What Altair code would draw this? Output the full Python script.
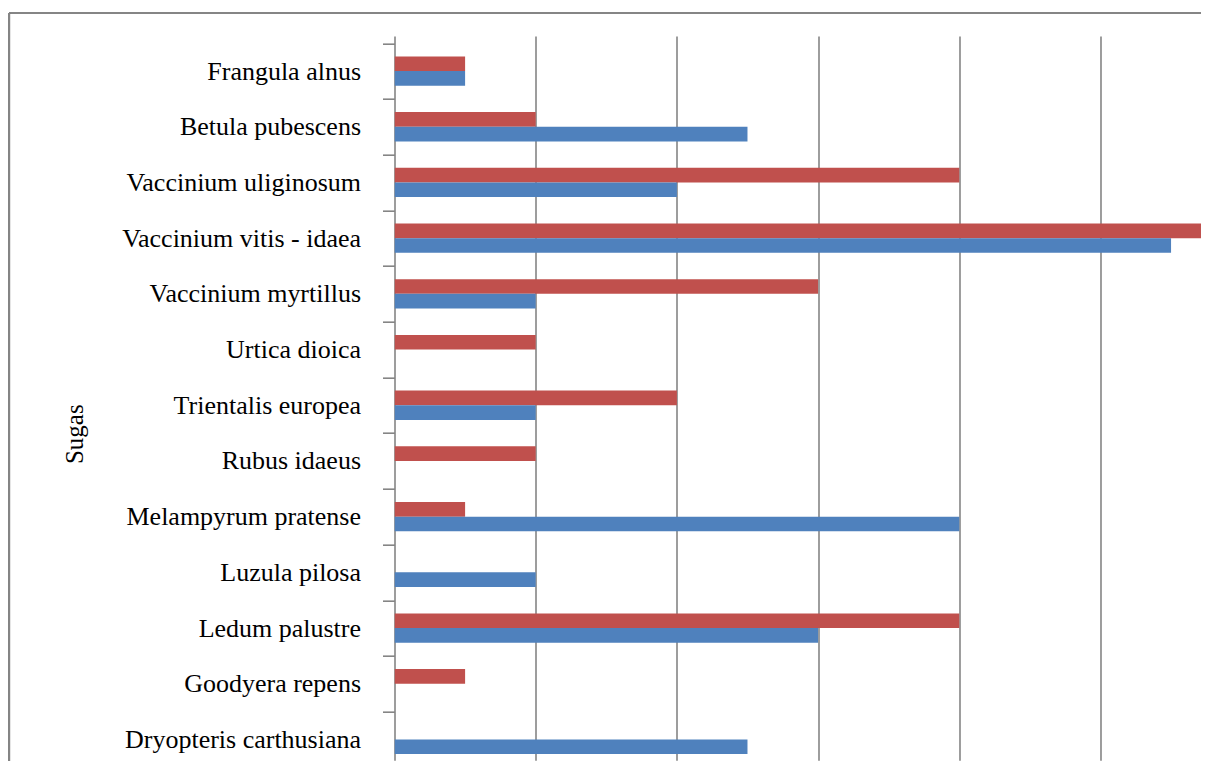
import altair as alt
import pandas as pd

species = [
    "Frangula alnus",
    "Betula pubescens",
    "Vaccinium uliginosum",
    "Vaccinium vitis - idaea",
    "Vaccinium myrtillus",
    "Urtica dioica",
    "Trientalis europea",
    "Rubus idaeus",
    "Melampyrum pratense",
    "Luzula pilosa",
    "Ledum palustre",
    "Goodyera repens",
    "Dryopteris carthusiana",
]
series_names = ["Series 1", "Series 2"]
series_colors = ["#C0504D", "#4F81BD"]
red_values = [0.5, 1, 4, 6, 3, 1, 2, 1, 0.5, 0, 4, 0.5, 0]
blue_values = [0.5, 2.5, 2, 5.5, 1, 0, 1, 0, 4, 1, 3, 0, 2.5]
grid_values = [0, 1, 2, 3, 4, 5]

rows = []
for sp, r, b in zip(species, red_values, blue_values):
    rows.append({"species": sp, "series": series_names[0], "value": r})
    rows.append({"species": sp, "series": series_names[1], "value": b})
df = pd.DataFrame(rows)

PLOT_W = 806.5
PLOT_H = 718
BAND_RANGE = [0.5, 724.6]
GRAY = "#858585"

bars = alt.Chart(df).mark_bar(clip=True).encode(
    x=alt.X(
        "value:Q",
        scale=alt.Scale(domain=[0, 5.712], nice=False, zero=True),
        axis=alt.Axis(
            values=grid_values, grid=True, gridColor=GRAY, gridWidth=1.6,
            labels=False, ticks=False, domain=False, title=None,
        ),
    ),
    y=alt.Y(
        "species:N",
        sort=species,
        scale=alt.Scale(range=BAND_RANGE, paddingInner=0, paddingOuter=0),
        axis=alt.Axis(
            title="Sugas",
            titleFont="Liberation Serif",
            titleFontSize=25,
            titleFontWeight="normal",
            titleColor="#000000",
            titleAngle=270,
            titleX=-320,
            titleY=391,
            titleAlign="center",
            titleBaseline="middle",
            labelFont="Liberation Serif",
            labelFontSize=26,
            labelColor="#000000",
            labelPadding=22,
            labelLimit=400,
            tickBand="extent",
            tickSize=12,
            tickColor=GRAY,
            tickWidth=1.6,
            domain=False,
            grid=False,
        ),
    ),
    yOffset=alt.YOffset(
        "series:N", sort=series_names,
        scale=alt.Scale(paddingInner=0, paddingOuter=0.9),
    ),
    color=alt.Color(
        "series:N",
        scale=alt.Scale(domain=series_names, range=series_colors),
        legend=None,
    ),
)

frame_top = alt.Chart(df).mark_rule(color=GRAY, strokeWidth=2).encode(
    x=alt.value(-385.5), x2=alt.value(PLOT_W), y=alt.value(-29.7)
)
frame_left = alt.Chart(df).mark_rule(color=GRAY, strokeWidth=2).encode(
    x=alt.value(-385.5), y=alt.value(-29.7), y2=alt.value(PLOT_H + 40)
)

chart = (
    alt.layer(bars, frame_top, frame_left)
    .properties(
        width=PLOT_W,
        height=PLOT_H,
        autosize=alt.AutoSizeParams(type="none"),
        padding={"left": 386.5, "top": 34.7, "right": 0, "bottom": 0},
        background="#ffffff",
    )
    .configure_view(stroke=None)
)

chart.save("out.html", embed_options={"renderer": "svg", "actions": False})
